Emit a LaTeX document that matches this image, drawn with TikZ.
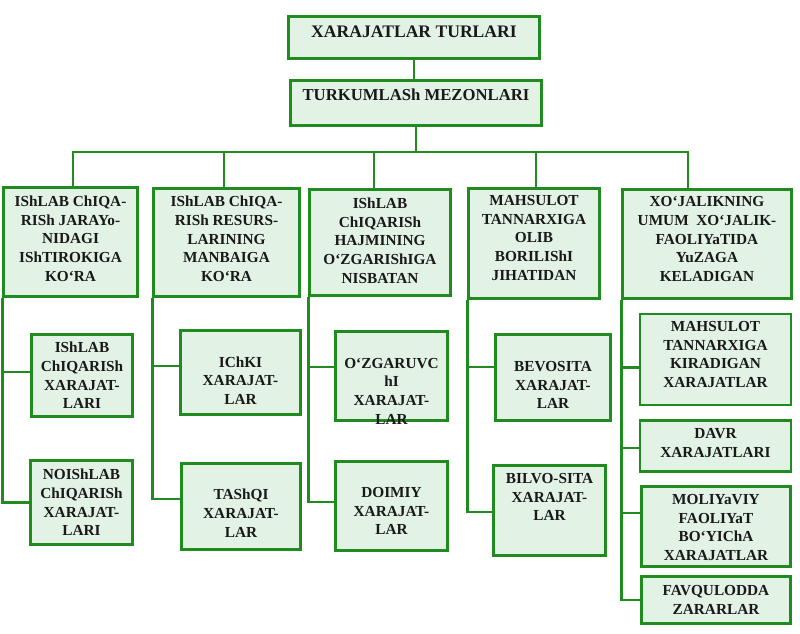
\documentclass[tikz,border=0pt]{standalone}
\usepackage{fontspec}
\setmainfont{Liberation Serif}
\definecolor{boxline}{RGB}{32,140,32}
\definecolor{boxfill}{RGB}{226,242,229}
\definecolor{txtcol}{RGB}{25,25,25}
\begin{document}
\begin{tikzpicture}[x=1pt,y=-1pt,
  box/.style={draw=boxline, fill=boxfill, line width=2.7pt, rectangle, inner sep=0pt},
  txt/.style={font=\bfseries\fontsize{15.3}{18.7}\selectfont, text=txtcol, align=center, inner sep=0pt},
  bigtxt/.style={font=\bfseries\fontsize{17.6}{20}\selectfont, text=txtcol, align=center, inner sep=0pt},
  midtxt/.style={font=\bfseries\fontsize{16.7}{20}\selectfont, text=txtcol, align=center, inner sep=0pt},
  conn/.style={draw=boxline, line width=2.7pt}
]
\useasboundingbox (0,0) rectangle (800,633);
\fill[white] (0,0) rectangle (800,633);

% top boxes
\node[box, minimum width=251pt, minimum height=42pt,
  label={[bigtxt, yshift=6pt]center:XARAJATLAR TURLARI}] (top) at (414,37.5) {};
\node[box, minimum width=251pt, minimum height=45pt,
  label={[midtxt, yshift=8.5pt]center:TURKUMLASh MEZONLARI}] (mez) at (416,103) {};

% level 1
\node[box, minimum width=134pt, minimum height=109pt,
  label={[txt, yshift=3.5pt]center:IShLAB ChIQA-\\RISh JARAYo-\\NIDAGI\\IShTIROKIGA\\KO‘RA}] (b1) at (70.5,242) {};
\node[box, minimum width=146pt, minimum height=108pt,
  label={[txt, yshift=3.5pt]center:IShLAB ChIQA-\\RISh RESURS-\\LARINING\\MANBAIGA\\KO‘RA}] (b2) at (226.5,242.5) {};
\node[box, minimum width=141pt, minimum height=106pt,
  label={[txt, yshift=2pt]center:IShLAB\\ChIQARISh\\HAJMINING\\O‘ZGARIShIGA\\NISBATAN}] (b3) at (380,242.5) {};
\node[box, minimum width=131pt, minimum height=110pt,
  label={[txt, yshift=5.5pt]center:MAHSULOT\\TANNARXIGA\\OLIB\\BORILIShI\\JIHATIDAN}] (b4) at (534,243.5) {};
\node[box, minimum width=169pt, minimum height=109pt,
  label={[txt, yshift=5pt]center:XO‘JALIKNING\\UMUM\ \ XO‘JALIK-\\FAOLIYaTIDA\\YuZAGA\\KELADIGAN}] (b5) at (707,244) {};

% level 2
\node[box, minimum width=101pt, minimum height=82pt,
  label={[txt]center:IShLAB\\ChIQARISh\\XARAJAT-\\LARI}] (c11) at (82,375.5) {};
\node[box, minimum width=102pt, minimum height=84pt,
  label={[txt]center:NOIShLAB\\ChIQARISh\\XARAJAT-\\LARI}] (c12) at (81.5,502.5) {};
\node[box, minimum width=120pt, minimum height=84pt,
  label={[txt, yshift=-8pt]center:IChKI\\XARAJAT-\\LAR}] (c21) at (240.5,372.5) {};
\node[box, minimum width=119pt, minimum height=86pt,
  label={[txt, yshift=-6.5pt]center:TAShQI\\XARAJAT-\\LAR}] (c22) at (241,506.5) {};
\node[box, minimum width=112pt, minimum height=89pt,
  label={[txt, yshift=-15pt]center:O‘ZGARUVC\\hI\\XARAJAT-\\LAR}] (c31) at (391.5,376) {};
\node[box, minimum width=112pt, minimum height=89pt,
  label={[txt, yshift=-5pt]center:DOIMIY\\XARAJAT-\\LAR}] (c32) at (391.5,506) {};
\node[box, minimum width=115pt, minimum height=86pt,
  label={[txt, yshift=-7.5pt]center:BEVOSITA\\XARAJAT-\\LAR}] (c41) at (553,377.5) {};
\node[box, minimum width=112pt, minimum height=90pt,
  label={[txt, yshift=13.5pt]center:BILVO-SITA\\XARAJAT-\\LAR}] (c42) at (549.5,510.5) {};
\node[box, minimum width=151pt, minimum height=91pt,
  label={[txt, yshift=5pt]center:MAHSULOT\\TANNARXIGA\\KIRADIGAN\\XARAJATLAR}] (c51) at (715.5,359.5) {};
\node[box, minimum width=151pt, minimum height=51pt,
  label={[txt, yshift=3pt]center:DAVR\\XARAJATLARI}] (c52) at (715.5,446) {};
\node[box, minimum width=149pt, minimum height=80pt,
  label={[txt, yshift=-1pt]center:MOLIYaVIY\\FAOLIYaT\\BO‘YIChA\\XARAJATLAR}] (c53) at (716,526.5) {};
\node[box, minimum width=149pt, minimum height=47pt,
  label={[txt]center:FAVQULODDA\\ZARARLAR}] (c54) at (716,600) {};

% connectors top
\draw[conn] (top.south) -- (mez.north -| top.south);
\draw[conn] (mez.south) -- ++(0,25) coordinate (bar);
\draw[conn] (bar) -| ([xshift=2.5pt]b1.north);
\draw[conn] (bar) -| ([xshift=-2.5pt]b2.north);
\draw[conn] (bar) -| ([xshift=-6pt]b3.north);
\draw[conn] (bar) -| ([xshift=2pt]b4.north);
\draw[conn] (bar) -| ([xshift=-19pt]b5.north);

% connectors level 2
\draw[conn] (b1.south west) |- ([yshift=3.5pt]c11.west);
\draw[conn] (b1.south west) |- (c12.west);
\draw[conn] (b2.south west) |- ([yshift=6.5pt]c21.west);
\draw[conn] (b2.south west) |- ([yshift=7.5pt]c22.west);
\draw[conn] (b3.south west) |- ([yshift=9pt]c31.west);
\draw[conn] (b3.south west) |- ([yshift=4pt]c32.west);
\draw[conn] (b4.south west) |- ([yshift=10.5pt]c41.west);
\draw[conn] (b4.south west) |- ([yshift=-1.5pt]c42.west);
\draw[conn] (b5.south west) |- ([yshift=-8pt]c51.west);
\draw[conn] (b5.south west) |- ([yshift=-2pt]c52.west);
\draw[conn] (b5.south west) |- ([yshift=13.5pt]c53.west);
\draw[conn] (b5.south west) |- (c54.west);
\end{tikzpicture}
\end{document}
